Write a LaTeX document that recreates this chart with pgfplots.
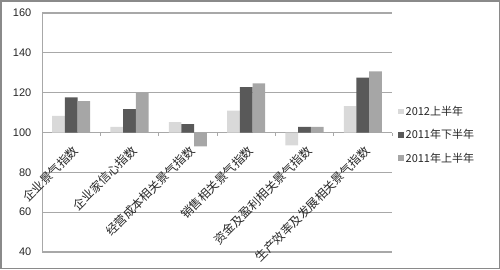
\documentclass[border=0pt]{standalone}
\usepackage{pgfplots}
\pgfplotsset{compat=1.18}
\usepackage{fontspec}
\setmainfont{Liberation Sans}
\newfontfamily\cjk{Noto Sans CJK SC}
\definecolor{cA}{HTML}{D9D9D9}
\definecolor{cB}{HTML}{595959}
\definecolor{cC}{HTML}{A6A6A6}
\definecolor{gridc}{HTML}{A8A8A8}
\definecolor{framec}{HTML}{8A8A8A}
\begin{document}
\begin{tikzpicture}[x=1pt,y=1pt]
\useasboundingbox (0,0) rectangle (500,269);
\draw[framec, line width=1.5pt] (0.75,0.75) rectangle (499.25,268.25);
\begin{axis}[
  at={(42pt,17pt)}, anchor=south west,
  scale only axis, width=350pt, height=239pt,
  ymin=40, ymax=160, ytick={40,60,...,160},
  y coord trafo/.code={\pgfmathparse{#1-100}},
  y coord inv trafo/.code={\pgfmathparse{#1+100}},
  xmin=-0.5, xmax=5.5, xtick={0,...,5},
  xticklabels={企业景气指数,企业家信心指数,经营成本相关景气指数,销售相关景气指数,资金及盈利相关景气指数,生产效率及发展相关景气指数},
  axis x line=middle, axis y line=left,
  axis line style={-, gridc, line width=1pt},
  ymajorgrids, grid style={gridc, line width=1.2pt},
  major tick length=0pt,
  extra x ticks={-0.5,0.5,...,5.5}, extra x tick labels={},
  extra x tick style={major tick length=3pt, tick align=outside, tick style={gridc, line width=0.8pt}},
  /pgf/number format/assume math mode=true,
  yticklabel style={font=\fontsize{11}{13}\selectfont, text=black!85, inner sep=0pt, anchor=east, xshift=-10.5pt},
  xticklabel style={font=\cjk\fontsize{12}{12}\selectfont, text=black!85, inner sep=0pt, yshift=-16pt, xshift=5pt, rotate=45, anchor=east},
  ybar=0pt, bar width=0.218,
  legend style={at={(1.017,0.49)}, anchor=west, draw=none, fill=none, inner sep=0pt,
    font=\cjk\fontsize{11}{11}\selectfont, text=black!85, row sep=8.5pt, cells={anchor=west}},
  legend image code/.code={\fill[#1] (0pt,-2.75pt) rectangle (5.5pt,2.75pt);},
]
\addplot[fill=cA, draw=none] coordinates {(0,108.3) (1,102.8) (2,105.2) (3,111.0) (4,93.5) (5,113.3)};
\addplot[fill=cB, draw=none] coordinates {(0,117.7) (1,111.8) (2,104.2) (3,122.8) (4,102.8) (5,127.5)};
\addplot[fill=cC, draw=none] coordinates {(0,115.7) (1,120.0) (2,93.0) (3,124.7) (4,102.8) (5,130.7)};
\legend{2012上半年,2011年下半年,2011年上半年}
\end{axis}
\end{tikzpicture}
\end{document}
